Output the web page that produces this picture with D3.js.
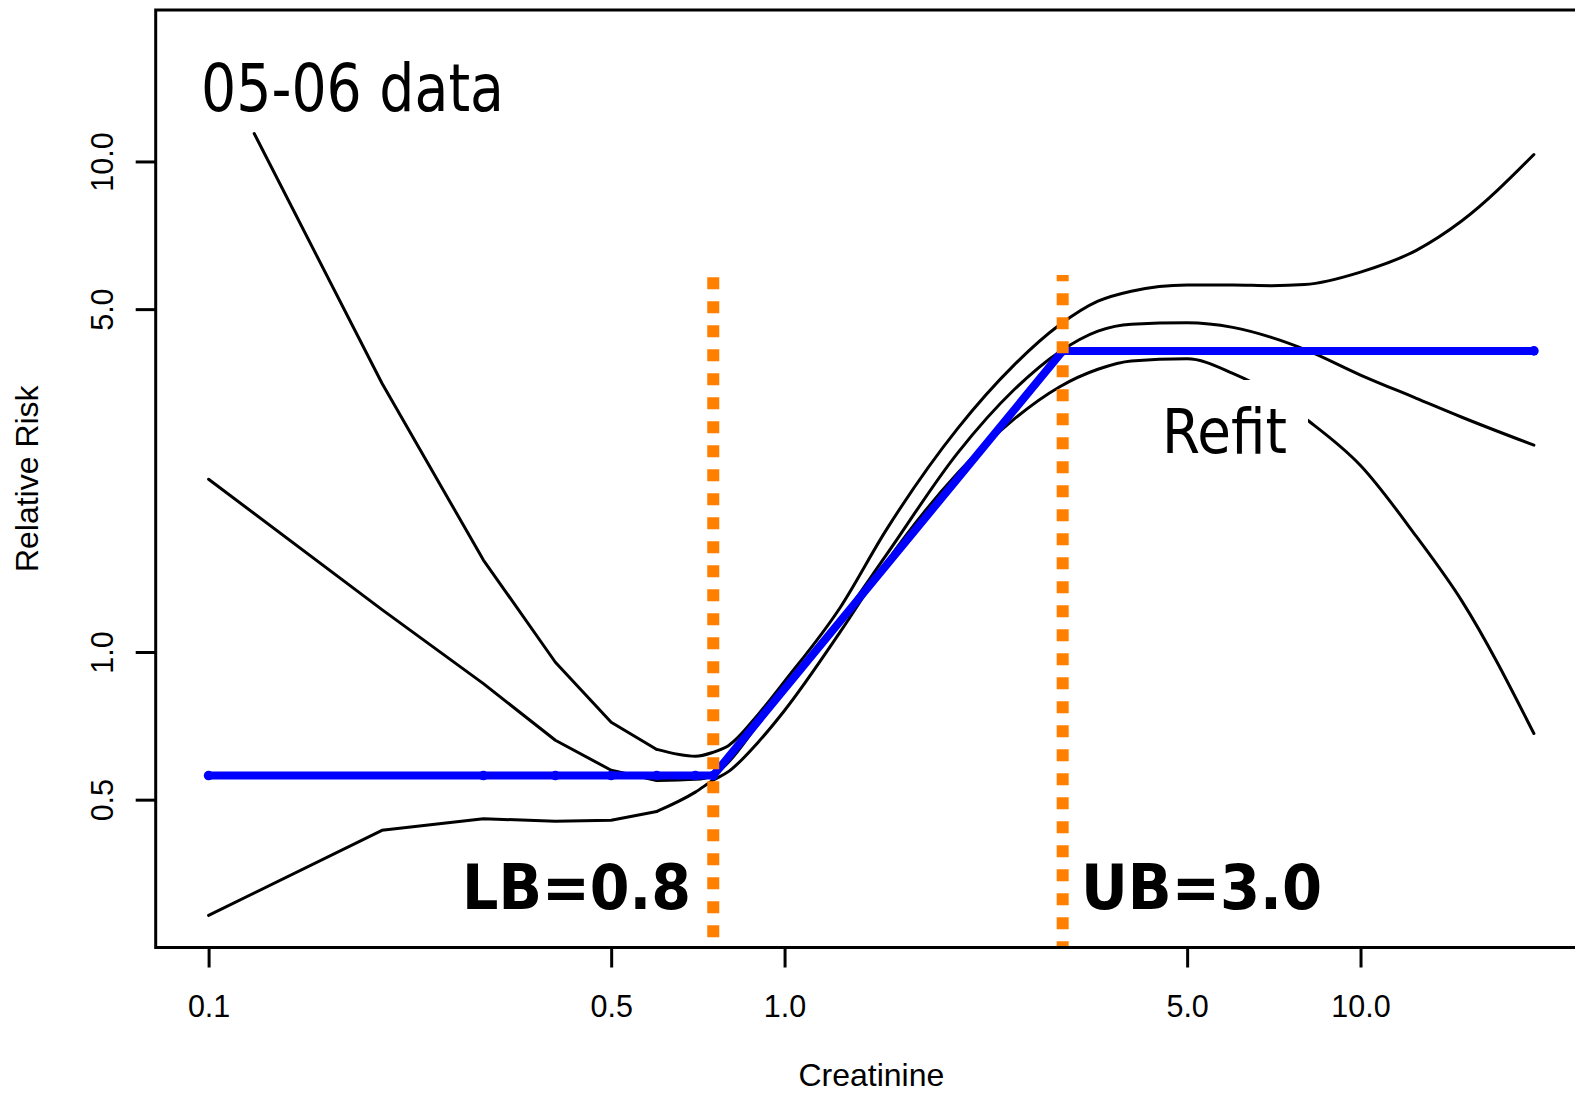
<!DOCTYPE html>
<html>
<head>
<meta charset="utf-8">
<script src="https://cdn.jsdelivr.net/npm/d3@7"></script>
<style>
  body { margin: 0; background: #fff; }
  .note { font-family: 'DejaVu Sans Condensed', 'DejaVu Sans', sans-serif; font-stretch: condensed; }
</style>
</head>
<body>
<svg id="chart" width="1575" height="1095"></svg>
<script>
// creatinine grid used by the fit and its lower band
const creatinine = [0.1, 0.2, 0.3, 0.4, 0.5, 0.6, 0.7, 0.75, 0.8, 0.9, 1.0, 1.25, 1.5, 2.0, 2.5, 3.0, 3.5, 4.0, 5.0, 6.0, 7.0, 8.0, 10.0, 12.5, 15.0, 20.0];
const riskFit = [2.25, 1.22, 0.862, 0.661, 0.574, 0.547, 0.550, 0.560, 0.597, 0.713, 0.835, 1.16, 1.574, 2.55, 3.42, 4.09, 4.51, 4.66, 4.69, 4.59, 4.38, 4.14, 3.67, 3.29, 3.01, 2.64];
const riskLower = [0.2905, 0.433, 0.457, 0.452, 0.454, 0.473, 0.518, 0.547, 0.571, 0.655, 0.760, 1.10, 1.52, 2.32, 2.98, 3.47, 3.77, 3.92, 3.96, 3.70, 3.37, 3.00, 2.40, 1.72, 1.27, 0.682];

// upper band only enters a bit right of 0.1
const creatinineUpper = [0.12, 0.2, 0.3, 0.4, 0.5, 0.6, 0.7, 0.75, 0.8, 0.9, 1.0, 1.25, 1.5, 2.0, 2.5, 3.0, 3.5, 4.0, 5.0, 6.0, 7.0, 8.0, 10.0, 12.5, 15.0, 20.0];
const riskUpper = [11.4, 3.53, 1.54, 0.953, 0.719, 0.633, 0.613, 0.624, 0.645, 0.746, 0.871, 1.234, 1.77, 2.86, 3.84, 4.64, 5.19, 5.44, 5.60, 5.60, 5.58, 5.61, 5.95, 6.59, 7.57, 10.33];

// refit (blue), flat outside the bounds
const refitX = [0.1, 0.3, 0.4, 0.5, 0.6, 0.7, 0.752, 3.04, 20.0];
const refitY = [0.56, 0.56, 0.56, 0.56, 0.56, 0.56, 0.56, 4.11, 4.11];

// LB / UB lines
const boundX = [0.752, 3.04];
const boundTop = [5.81, 5.87];
const boundBottom = [0.2498, 0.2498];

const xTicks = [0.1, 0.5, 1, 5, 10];
const yTicks = [0.5, 1, 5, 10];

const plotLeft = 155.7;
const plotRight = 1587;
const plotTop = 10;
const plotBottom = 947.5;

const xscale = d3.scaleLog()
  .domain([0.08094, 24.73])
  .range([plotLeft, plotRight]);

const yscale = d3.scaleLog()
  .domain([0.2498, 20.36])
  .range([plotBottom, plotTop]);

const svg = d3.select('#chart');

svg.append('defs')
  .append('clipPath')
  .attr('id', 'plotClip')
  .append('rect')
  .attr('x', plotLeft)
  .attr('y', plotTop)
  .attr('width', plotRight - plotLeft)
  .attr('height', plotBottom - plotTop);

const plot = svg.append('g').attr('clip-path', 'url(#plotClip)');

// coarse grid on the left is drawn as straight pieces, smooth from 0.6 on
const split = 0.6;
const straight = d3.line()
  .x((d) => xscale(d[0]))
  .y((d) => yscale(d[1]));
const smooth = d3.line()
  .x((d) => xscale(d[0]))
  .y((d) => yscale(d[1]))
  .curve(d3.curveMonotoneX);

const bands = [
  d3.zip(creatinineUpper, riskUpper),
  d3.zip(creatinine, riskFit),
  d3.zip(creatinine, riskLower)
];

const bandPaths = [];
bands.forEach((b) => {
  bandPaths.push(straight(b.filter((d) => d[0] <= split)));
  bandPaths.push(smooth(b.filter((d) => d[0] >= split)));
});

plot.append('g')
  .selectAll('path')
  .data(bandPaths)
  .enter()
  .append('path')
  .attr('d', (d) => d)
  .attr('fill', 'none')
  .attr('stroke', '#000')
  .attr('stroke-width', 3)
  .attr('stroke-linejoin', 'round')
  .attr('stroke-linecap', 'round');

// blue refit line
const refit = d3.zip(refitX, refitY);
plot.append('path')
  .datum(refit)
  .attr('d', straight)
  .attr('fill', 'none')
  .attr('stroke', '#0000ff')
  .attr('stroke-width', 8)
  .attr('stroke-linecap', 'round')
  .attr('stroke-linejoin', 'round');

plot.append('g')
  .selectAll('circle')
  .data(refit)
  .enter()
  .append('circle')
  .attr('cx', (d) => xscale(d[0]))
  .attr('cy', (d) => yscale(d[1]))
  .attr('r', 4.8)
  .attr('fill', '#0000ff');

// orange bound lines
plot.append('g')
  .selectAll('line')
  .data(boundX)
  .enter()
  .append('line')
  .attr('x1', (d) => xscale(d))
  .attr('x2', (d) => xscale(d))
  .attr('y1', (d, i) => yscale(boundTop[i]))
  .attr('y2', (d, i) => yscale(boundBottom[i]))
  .attr('stroke', '#ff8000')
  .attr('stroke-width', 12)
  .attr('stroke-dasharray', '12 12')
  .attr('stroke-dashoffset', (d, i) => (i === 0 ? 0 : 5.6));

// box
svg.append('rect')
  .attr('x', plotLeft)
  .attr('y', plotTop)
  .attr('width', plotRight - plotLeft)
  .attr('height', plotBottom - plotTop)
  .attr('fill', 'none')
  .attr('stroke', '#000')
  .attr('stroke-width', 3);

// axes
const axisFont = "'Liberation Sans', Arial, sans-serif";

const bottomAxis = d3.axisBottom(xscale)
  .tickValues(xTicks)
  .tickFormat(d3.format('.1f'))
  .tickSize(20)
  .tickPadding(28);

const gx = svg.append('g')
  .attr('transform', `translate(0, ${plotBottom})`)
  .call(bottomAxis);
gx.select('.domain').remove();
gx.selectAll('.tick line').attr('stroke', '#000').attr('stroke-width', 3);
gx.selectAll('.tick text')
  .attr('fill', '#000')
  .style('font-family', axisFont)
  .style('font-size', '30.5px');

const leftAxis = d3.axisLeft(yscale)
  .tickValues(yTicks)
  .tickFormat(d3.format('.1f'))
  .tickSize(20);

const gy = svg.append('g')
  .attr('transform', `translate(${plotLeft}, 0)`)
  .call(leftAxis);
gy.select('.domain').remove();
gy.selectAll('.tick line').attr('stroke', '#000').attr('stroke-width', 3);
gy.selectAll('.tick text')
  .attr('x', 0)
  .attr('y', 0)
  .attr('dy', 0)
  .attr('text-anchor', 'middle')
  .attr('transform', 'translate(-42.5, 0) rotate(-90)')
  .attr('fill', '#000')
  .style('font-family', axisFont)
  .style('font-size', '30.5px');

svg.append('text')
  .text('Creatinine')
  .attr('x', (plotLeft + plotRight) / 2)
  .attr('y', 1086)
  .attr('text-anchor', 'middle')
  .style('font-family', axisFont)
  .style('font-size', '32px');

svg.append('text')
  .text('Relative Risk')
  .attr('transform', `translate(38, ${(plotTop + plotBottom) / 2}) rotate(-90)`)
  .attr('text-anchor', 'middle')
  .style('font-family', axisFont)
  .style('font-size', '32px');

// annotations
svg.append('text')
  .attr('class', 'note')
  .text('05-06 data')
  .attr('x', 201)
  .attr('y', 111)
  .attr('textLength', 303)
  .attr('lengthAdjust', 'spacingAndGlyphs')
  .style('font-size', '66px');

svg.append('rect')
  .attr('x', 1140)
  .attr('y', 380)
  .attr('width', 168)
  .attr('height', 90)
  .attr('fill', '#fff');

svg.append('text')
  .attr('class', 'note')
  .text('Refit')
  .attr('x', 1162)
  .attr('y', 453)
  .attr('textLength', 125)
  .attr('lengthAdjust', 'spacingAndGlyphs')
  .style('font-size', '63px');

svg.append('text')
  .attr('class', 'note')
  .text('LB=0.8')
  .attr('x', 462)
  .attr('y', 909)
  .attr('textLength', 229)
  .attr('lengthAdjust', 'spacingAndGlyphs')
  .style('font-size', '62px')
  .style('font-weight', 'bold');

svg.append('text')
  .attr('class', 'note')
  .text('UB=3.0')
  .attr('x', 1081)
  .attr('y', 909)
  .attr('textLength', 241)
  .attr('lengthAdjust', 'spacingAndGlyphs')
  .style('font-size', '62px')
  .style('font-weight', 'bold');
</script>
</body>
</html>
